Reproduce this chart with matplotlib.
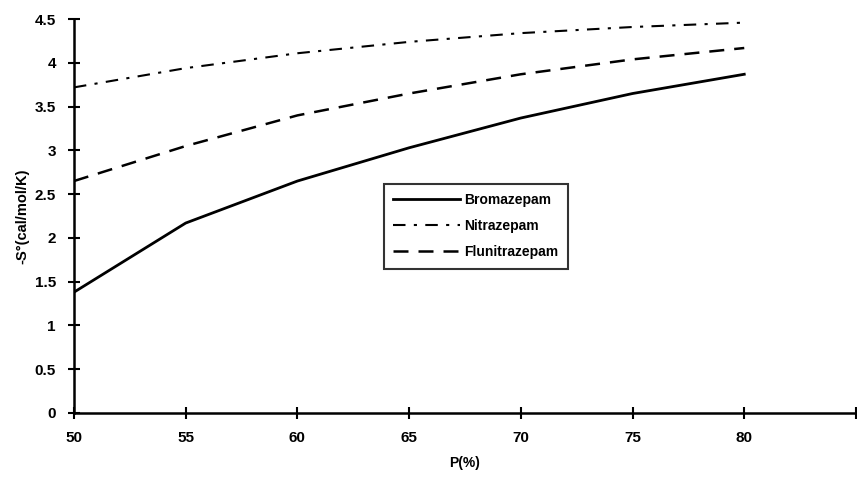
import numpy as np
import matplotlib
matplotlib.use("Agg")
import matplotlib.pyplot as plt

plt.rcParams['font.family'] = ['Liberation Sans', 'DejaVu Sans']
plt.rcParams['font.weight'] = 'bold'

p = [50, 55, 60, 65, 70, 75, 80]
bromazepam = [1.38, 2.17, 2.65, 3.03, 3.37, 3.65, 3.87]
nitrazepam = [3.72, 3.94, 4.11, 4.24, 4.34, 4.41, 4.46]
flunitrazepam = [2.65, 3.05, 3.40, 3.65, 3.87, 4.04, 4.17]
xticks = [50, 55, 60, 65, 70, 75, 80, 85]
xticklabels = ['50', '55', '60', '65', '70', '75', '80', '']
yticks = [0, 0.5, 1, 1.5, 2, 2.5, 3, 3.5, 4, 4.5]
yticklabels = ['0', '0.5', '1', '1.5', '2', '2.5', '3', '3.5', '4', '4.5']

fig = plt.figure(figsize=(8.57, 4.78), dpi=100)
ax = fig.add_axes([0.0863, 0.136, 0.9125, 0.824])

ax.plot(p, bromazepam, color='black', lw=2.0, ls='-', label='Bromazepam')
ax.plot(p, nitrazepam, color='black', lw=1.5, ls=(0, (6, 4, 1.5, 4)), label='Nitrazepam')
ax.plot(p, flunitrazepam, color='black', lw=1.8, ls=(0, (6, 4)), label='Flunitrazepam')

ax.set_xlim(50, 85)
ax.set_ylim(0, 4.5)
ax.set_xticks(xticks)
ax.set_xticklabels(xticklabels)
ax.set_yticks(yticks)
ax.set_yticklabels(yticklabels)
ax.tick_params(direction='inout', length=8, width=1.5, labelsize=11)
ax.tick_params(axis='x', pad=9)
ax.tick_params(axis='y', pad=9)
for s in ['top', 'right']:
    ax.spines[s].set_visible(False)
for s in ['left', 'bottom']:
    ax.spines[s].set_linewidth(1.8)

ax.set_xlabel('P(%)', fontsize=10, fontweight='bold', labelpad=8)
ax.set_ylabel('-S°(cal/mol/K)', fontsize=10.5, fontweight='bold', labelpad=4)

leg = ax.legend(loc='upper left', bbox_to_anchor=(0.387, 0.6), frameon=True,
                fancybox=False, edgecolor='black', fontsize=10, handlelength=4.8,
                borderpad=0.7, labelspacing=0.85, handletextpad=0.3)
leg.get_frame().set_linewidth(1.5)

fig.savefig('out.png', dpi=100)
